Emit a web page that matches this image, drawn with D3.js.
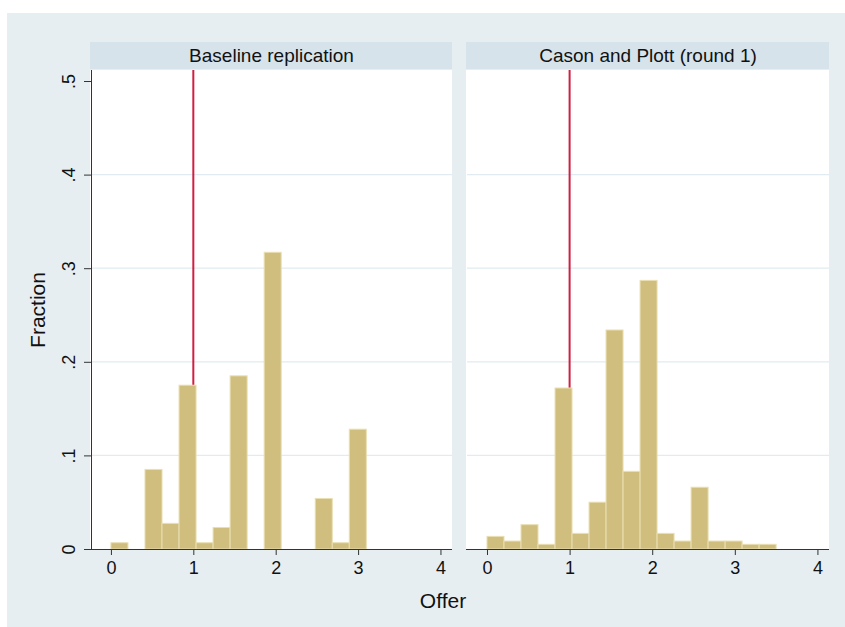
<!DOCTYPE html>
<html>
<head>
<meta charset="utf-8">
<script src="https://cdn.jsdelivr.net/npm/d3@7"></script>
<style>
  html, body { margin: 0; padding: 0; background: #fff; }
  svg { display: block; font-family: "Liberation Sans", Arial, Helvetica, sans-serif; }
</style>
</head>
<body>
<div id="chart"></div>
<script>
// panel titles
const panelTitles = ["Baseline replication", "Cason and Plott (round 1)"];

// histogram fractions per bin (bins start at 0)
const baselineFractions = [0.0067, 0, 0.085, 0.0274, 0.175, 0.0067, 0.023, 0.185, 0, 0.317, 0, 0, 0.054, 0.0067, 0.128];
const casonFractions = [0.0135, 0.0085, 0.026, 0.005, 0.172, 0.0167, 0.05, 0.234, 0.083, 0.287, 0.0167, 0.0085, 0.066, 0.0085, 0.0085, 0.005, 0.005];

// bin widths (range / number of bins)
const binWidths = [3.1 / 15, 3.5 / 17];

const xTicks = [0, 1, 2, 3, 4];
const yTicks = [0, 0.1, 0.2, 0.3, 0.4, 0.5];
const yTickLabels = ["0", ".1", ".2", ".3", ".4", ".5"];
const gridValues = [0.1, 0.2, 0.3, 0.4];
const referenceOffer = 1;

const width = 845;
const height = 627;

const svg = d3.select("#chart")
  .append("svg")
  .attr("width", width)
  .attr("height", height);

// outer background
svg.append("rect")
  .attr("x", 7).attr("y", 13)
  .attr("width", width - 7).attr("height", height - 13)
  .attr("fill", "#e6eef2");

const plotTop = 70;
const plotBottom = 549;
const panelsX = [[91, 452], [467, 829]];

const y = d3.scaleLinear().domain([0, 0.5]).range([549, 81]);

const allData = [baselineFractions, casonFractions];

panelsX.forEach(([left, right], p) => {
  const x = d3.scaleLinear().domain([-0.242, 4.14]).range([left, right]);
  const g = svg.append("g");

  // header strip
  g.append("rect")
    .attr("x", left - 1).attr("y", 42)
    .attr("width", right - left + 1).attr("height", 27)
    .attr("fill", "#d7e3ea");
  g.append("text")
    .attr("x", (left + right) / 2).attr("y", 62)
    .attr("text-anchor", "middle")
    .style("font-size", "19px")
    .attr("fill", "#111")
    .text(panelTitles[p]);

  // plot area
  g.append("rect")
    .attr("x", left - 1).attr("y", plotTop)
    .attr("width", right - left + 1).attr("height", plotBottom - plotTop)
    .attr("fill", "#fff");

  // gridlines
  g.selectAll(".grid")
    .data(gridValues)
    .join("line")
    .attr("x1", left).attr("x2", right)
    .attr("y1", d => y(d)).attr("y2", d => y(d))
    .attr("stroke", "#e2ebf1")
    .attr("stroke-width", 1.2);

  // reference line at offer = 1
  g.append("line")
    .attr("x1", x(referenceOffer)).attr("x2", x(referenceOffer))
    .attr("y1", plotTop).attr("y2", plotBottom)
    .attr("stroke", "#cf1f42")
    .attr("stroke-width", 2);

  // bars
  const bw = binWidths[p];
  const bins = allData[p].map((v, i) => ({ x0: i * bw, x1: (i + 1) * bw, v }));
  g.selectAll(".bar")
    .data(bins.filter(d => d.v > 0))
    .join("rect")
    .attr("x", d => x(d.x0))
    .attr("width", d => x(d.x1) - x(d.x0))
    .attr("y", d => y(d.v))
    .attr("height", d => y(0) - y(d.v))
    .attr("fill", "#cfbe7d")
    .attr("stroke", "#eadfb3")
    .attr("stroke-width", 1);

  // x axis
  const xAxis = d3.axisBottom(x).tickValues(xTicks).tickSize(6).tickPadding(6).tickFormat(d3.format("d"));
  const ax = g.append("g")
    .attr("transform", `translate(0,${plotBottom})`)
    .call(xAxis);
  ax.select(".domain").attr("d", `M${left - 1},0.5H${right}`).attr("stroke", "#333");
  ax.selectAll(".tick line").attr("stroke", "#333");
  ax.selectAll(".tick text")
    .style("font-size", "18px")
    .attr("fill", "#111")
    .style("font-family", "'Liberation Sans', Arial, sans-serif");

  // y axis only on the first panel
  if (p === 0) {
    const yAxis = d3.axisLeft(y).tickValues(yTicks).tickSize(7)
      .tickFormat((d, i) => yTickLabels[i]);
    const ay = g.append("g")
      .attr("transform", `translate(${left},0)`)
      .call(yAxis);
    ay.select(".domain").attr("d", `M0.5,${plotTop}V${plotBottom}`).attr("stroke", "#333");
    ay.selectAll(".tick line").attr("stroke", "#333");
    ay.selectAll(".tick text")
      .attr("x", 0).attr("dy", null)
      .attr("text-anchor", "middle")
      .attr("transform", "translate(-22,0) rotate(-90)")
      .attr("y", 6)
      .style("font-size", "18px")
      .attr("fill", "#111")
      .style("font-family", "'Liberation Sans', Arial, sans-serif");
  }
});

// axis titles
svg.append("text")
  .attr("x", 443).attr("y", 608)
  .attr("text-anchor", "middle")
  .style("font-size", "21px")
  .attr("fill", "#111")
  .text("Offer");

svg.append("text")
  .attr("transform", "translate(45,310) rotate(-90)")
  .attr("text-anchor", "middle")
  .style("font-size", "21px")
  .attr("fill", "#111")
  .text("Fraction");
</script>
</body>
</html>
